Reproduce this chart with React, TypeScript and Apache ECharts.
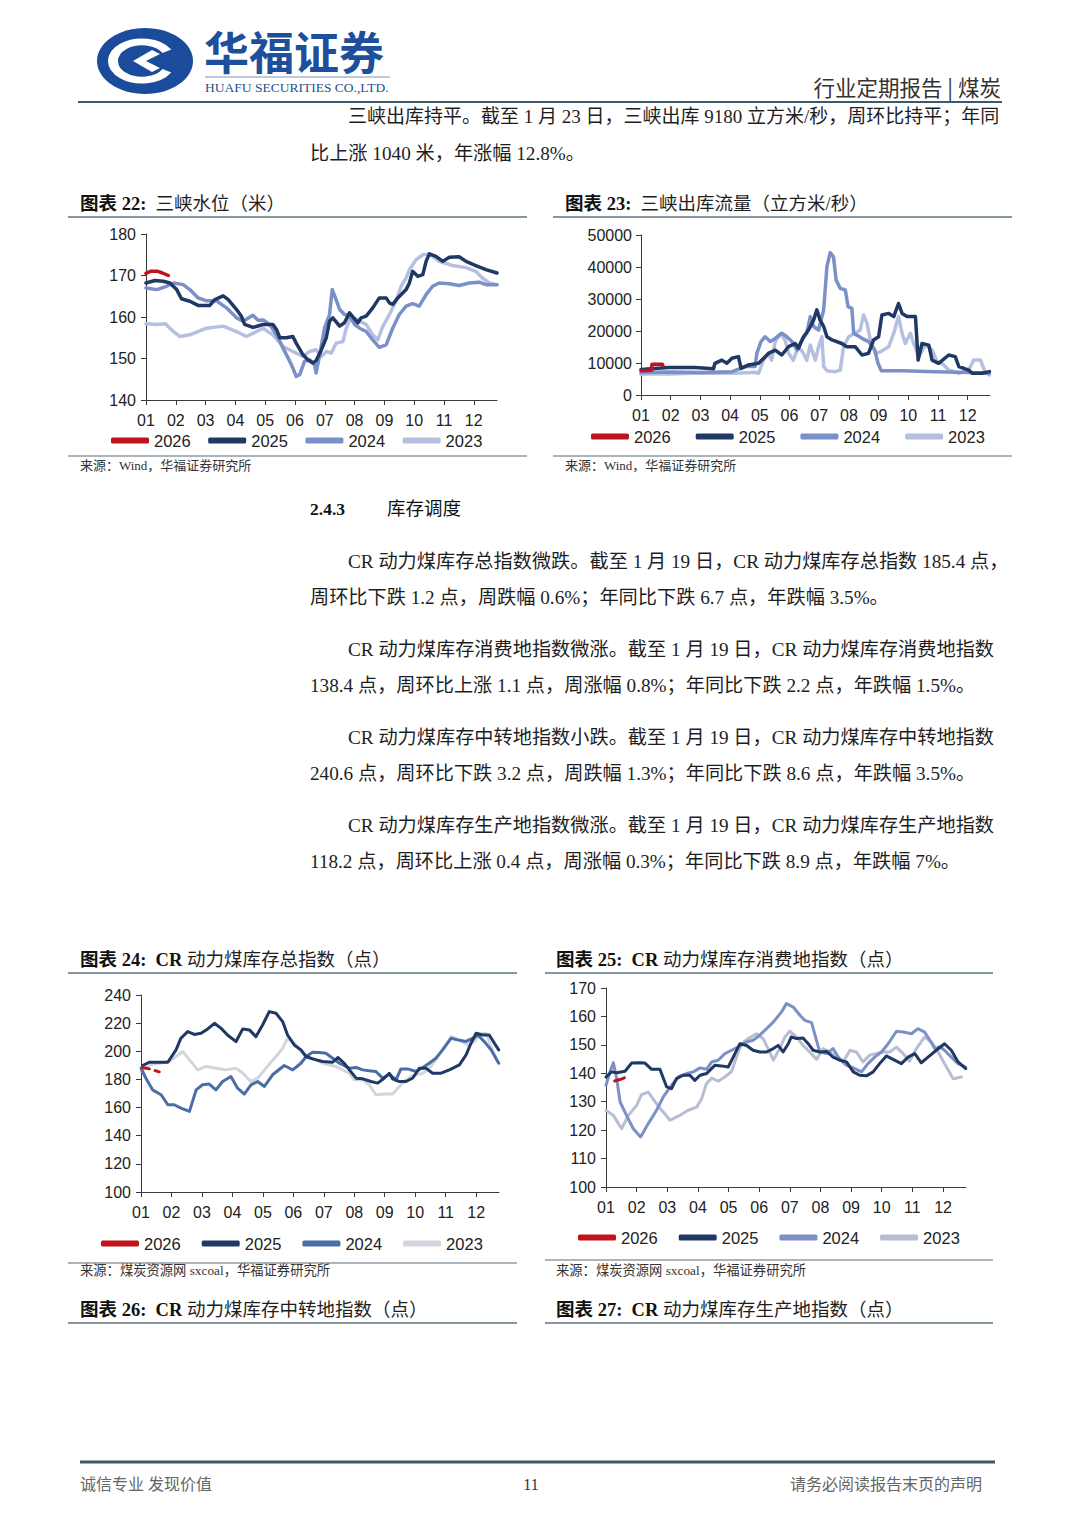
import React, { useEffect, useRef } from 'react';
import * as echarts from 'echarts';

// ---------- shared axis ticks ----------
const monthTicks = [0, 1, 2, 3, 4, 5, 6, 7, 8, 9, 10, 11];
const monthLabels = ['01', '02', '03', '04', '05', '06', '07', '08', '09', '10', '11', '12'];
const years = ['2026', '2025', '2024', '2023'];

// ---------- 图表22 三峡水位（米） [month, value] ----------
const c22_2026 = [[0, 170.5], [0.15, 171], [0.4, 171], [0.55, 170.6], [0.75, 170]];
const c22_2025 = [[0, 168.2], [0.3, 168.8], [0.58, 168.6], [0.8, 168.2], [1.03, 166.6], [1.19, 164.4], [1.47, 163.8], [1.75, 162.8], [2.14, 162.8], [2.31, 164.2], [2.59, 165.1], [2.76, 164.2], [3.04, 161.8], [3.2, 160.2], [3.31, 158.2], [3.59, 157.5], [3.93, 158.2], [4.26, 158.2], [4.38, 157], [4.49, 155], [4.71, 155], [4.93, 155.3], [5.04, 153.7], [5.27, 150.9], [5.43, 149.7], [5.6, 148.9], [5.71, 149.5], [5.88, 152], [6.05, 155], [6.16, 159], [6.27, 159.8], [6.5, 157.8], [6.66, 158.6], [6.83, 161], [7.11, 158.6], [7.22, 159.8], [7.39, 160.2], [7.61, 162.2], [7.83, 164.6], [8.06, 164.6], [8.17, 163.4], [8.28, 163], [8.45, 164.6], [8.73, 166.6], [8.84, 168.2], [8.95, 171], [9.12, 169.8], [9.29, 170.2], [9.4, 173.4], [9.51, 175.2], [9.73, 174.6], [9.96, 173.4], [10.18, 174.4], [10.51, 174.5], [10.74, 173.4], [11.07, 172.4], [11.41, 171.4], [11.78, 170.6]];
const c22_2024 = [[0, 167], [0.36, 166.6], [0.69, 167.4], [0.92, 168.2], [1.25, 167.8], [1.47, 166.6], [1.75, 164.6], [2.03, 163.9], [2.37, 163.9], [2.7, 162.2], [3.04, 159.8], [3.26, 159], [3.59, 160.4], [3.76, 159.2], [3.93, 159.3], [4.15, 158.2], [4.38, 155.7], [4.6, 152.5], [4.77, 150.1], [4.93, 147.7], [5.04, 145.7], [5.16, 146.1], [5.32, 149.3], [5.49, 149.7], [5.66, 148.5], [5.71, 146.5], [5.83, 150.9], [5.99, 157.3], [6.16, 160.6], [6.25, 166.6], [6.38, 164.2], [6.5, 161.8], [6.66, 160.6], [6.83, 160.4], [7.0, 158.2], [7.17, 157.3], [7.39, 156.5], [7.61, 154.5], [7.83, 152.7], [8.06, 153.3], [8.28, 157.3], [8.5, 160.6], [8.73, 162.6], [8.95, 163.2], [9.17, 162.6], [9.4, 165.4], [9.62, 167.4], [9.84, 168.2], [10.18, 168], [10.51, 167.6], [10.85, 168.2], [11.18, 168.4], [11.41, 167.8], [11.78, 167.8]];
const c22_2023 = [[0, 158.4], [0.36, 158.2], [0.64, 158.4], [0.92, 156.5], [1.14, 155.3], [1.47, 155.7], [2.03, 157.3], [2.59, 157.8], [3.04, 156.5], [3.37, 155.3], [3.71, 156.5], [3.93, 157.3], [4.26, 155.7], [4.6, 152.9], [4.93, 151.7], [5.27, 150.5], [5.49, 151.7], [5.71, 152.1], [5.88, 150.5], [6.05, 151.7], [6.22, 151.3], [6.38, 153.7], [6.61, 154.1], [6.72, 157.3], [6.89, 160.2], [7.17, 159], [7.39, 158.2], [7.61, 155.7], [7.78, 154.5], [7.95, 157.8], [8.17, 160.6], [8.39, 163.8], [8.56, 167.4], [8.73, 169.4], [8.84, 171.4], [9.06, 173.8], [9.29, 175], [9.51, 175.2], [9.84, 173.4], [10.29, 172.4], [10.74, 171.9], [11.07, 171], [11.29, 169.4], [11.52, 168.2], [11.78, 167.8]];

// ---------- 图表23 三峡出库流量（立方米/秒） ----------
const c23_2026 = [[0, 7600], [0.35, 7700], [0.37, 9600], [0.72, 9600], [0.74, 9180]];
const c23_2025 = [[0, 8000], [0.92, 8600], [1.82, 8600], [2.44, 8200], [2.49, 9900], [2.72, 10900], [2.89, 9900], [3.06, 11500], [3.28, 12000], [3.37, 8300], [3.62, 9400], [3.96, 9900], [4.29, 13000], [4.52, 14000], [4.74, 12500], [4.97, 15100], [5.19, 16100], [5.3, 14600], [5.47, 18200], [5.64, 20300], [5.81, 23400], [5.92, 26600], [6.03, 23400], [6.15, 21400], [6.26, 18200], [6.43, 17200], [6.76, 16100], [6.93, 15100], [7.21, 15100], [7.44, 12500], [7.66, 13000], [7.83, 17200], [8.0, 18200], [8.11, 25000], [8.34, 25500], [8.51, 24500], [8.67, 28600], [8.79, 25500], [8.96, 24500], [9.24, 24500], [9.33, 10900], [9.46, 16100], [9.69, 15600], [9.8, 10900], [10.02, 9900], [10.36, 12500], [10.58, 12000], [10.7, 8900], [11.03, 7800], [11.15, 6800], [11.48, 6800], [11.73, 7300]];
const c23_2024 = [[0, 7000], [0.92, 7200], [2.04, 7000], [3.06, 7300], [3.51, 8900], [3.84, 8900], [3.9, 13000], [4.04, 16700], [4.18, 18200], [4.35, 16700], [4.52, 17700], [4.74, 19300], [4.91, 18200], [5.08, 16700], [5.25, 14100], [5.42, 17200], [5.58, 19300], [5.7, 24500], [5.81, 21400], [5.98, 20300], [6.15, 26600], [6.26, 40100], [6.37, 44500], [6.48, 43200], [6.57, 35900], [6.71, 33300], [6.88, 32800], [6.97, 27600], [7.1, 27100], [7.16, 19300], [7.44, 17700], [7.66, 16700], [7.87, 14100], [7.98, 9900], [8.09, 7600], [8.79, 7600], [9.91, 7300], [11.03, 7000], [11.73, 6800]];
const c23_2023 = [[0, 6600], [0.92, 6600], [2.04, 6900], [3.17, 6800], [3.84, 7100], [3.96, 6800], [4.12, 10900], [4.29, 13000], [4.4, 10900], [4.52, 16700], [4.69, 19100], [4.85, 17200], [4.97, 13000], [5.13, 10900], [5.3, 15100], [5.47, 13000], [5.58, 10900], [5.7, 15600], [5.87, 10900], [5.98, 15100], [6.09, 18200], [6.15, 8900], [6.26, 7600], [6.54, 7300], [6.71, 7800], [6.82, 15100], [6.99, 18200], [7.21, 19300], [7.38, 20300], [7.49, 25000], [7.61, 22400], [7.72, 17200], [7.89, 13000], [8.06, 13500], [8.34, 15100], [8.51, 19300], [8.67, 24500], [8.79, 19300], [8.9, 16100], [9.07, 19300], [9.18, 16100], [9.35, 12000], [9.57, 15600], [9.8, 14100], [9.97, 10400], [10.13, 9900], [10.36, 7800], [10.7, 6800], [11.03, 7800], [11.2, 10900], [11.43, 10900], [11.6, 6800], [11.73, 6300]];

// ---------- 图表24 CR动力煤库存总指数（点） ----------
const c24_2026 = [[0.05, 188.5], [0.27, 187.5], [0.6, 185.4]];
const c24_2025 = [[0.05, 189.9], [0.27, 192.2], [0.6, 192.2], [0.88, 192.2], [1.15, 201], [1.31, 209.3], [1.53, 214], [1.75, 212], [1.97, 212.8], [2.19, 215.9], [2.41, 219.9], [2.63, 216.3], [2.84, 211.6], [3.12, 206.9], [3.34, 215.9], [3.56, 215.2], [3.77, 210.4], [3.99, 218.7], [4.21, 228.2], [4.43, 227], [4.65, 221.1], [4.81, 211.6], [5.03, 204.5], [5.25, 201], [5.42, 196.3], [5.63, 194.6], [5.96, 192.7], [6.29, 192.2], [6.46, 195.6], [6.67, 191.5], [6.84, 186.8], [7.06, 180.9], [7.28, 180.4], [7.55, 178.5], [7.77, 177.4], [7.99, 181], [8.15, 184.4], [8.26, 180.4], [8.48, 178.5], [8.7, 178.5], [8.92, 181], [9.14, 188], [9.35, 188], [9.57, 184.4], [9.85, 184.4], [10.12, 186.8], [10.45, 190.4], [10.67, 197.4], [10.83, 205.7], [11.0, 212.8], [11.21, 211.6], [11.43, 211.6], [11.6, 205.7], [11.74, 201]];
const c24_2024 = [[0, 188], [0.16, 180.9], [0.38, 172.6], [0.66, 169.1], [0.88, 162], [1.09, 162], [1.31, 159.6], [1.59, 157.3], [1.81, 172.6], [2.02, 176.2], [2.24, 176.7], [2.46, 172.6], [2.68, 178.5], [2.95, 182.1], [3.17, 173.8], [3.39, 169.6], [3.61, 176.2], [3.83, 178.5], [4.05, 175], [4.32, 183.3], [4.7, 189.9], [4.98, 186.8], [5.25, 191.5], [5.42, 196.3], [5.63, 199.3], [5.85, 199.1], [6.07, 198.6], [6.29, 195.1], [6.51, 191.5], [6.84, 188], [7.06, 188.5], [7.28, 186.8], [7.49, 186.1], [7.71, 185.6], [7.93, 180.9], [8.15, 183.7], [8.37, 179.7], [8.53, 187.5], [8.75, 187.5], [9.03, 185.6], [9.25, 188.5], [9.46, 191.5], [9.68, 195.1], [9.9, 201], [10.18, 209.3], [10.39, 208.1], [10.67, 207], [10.89, 209.3], [11.05, 211.6], [11.27, 206.9], [11.49, 201], [11.74, 191.5]];
const c24_2023 = [[0, 185.6], [0.27, 190.4], [0.6, 191.5], [0.93, 192.7], [1.37, 199.8], [1.59, 193.9], [1.86, 186.8], [2.13, 189.2], [2.46, 188], [2.79, 186.8], [3.12, 188], [3.34, 184.4], [3.61, 178.5], [3.83, 180.9], [4.1, 188], [4.38, 195.1], [4.65, 202.2], [4.81, 209.3], [5.03, 205.7], [5.25, 199.8], [5.42, 195.6], [5.63, 195.1], [5.96, 191.5], [6.4, 189.2], [6.84, 184.4], [7.0, 179.7], [7.28, 179.7], [7.49, 176.2], [7.71, 169.1], [8.04, 169.6], [8.26, 169.6], [8.48, 175], [8.7, 179.7], [8.92, 182.7], [9.25, 184.4], [9.46, 188], [9.68, 193.9], [9.96, 203.4], [10.18, 210.4], [10.45, 208.1], [10.72, 204.5], [10.94, 206.9], [11.1, 212.1], [11.32, 212.8], [11.49, 203.4], [11.71, 192.7]];

// ---------- 图表25 CR动力煤库存消费地指数（点） ----------
const c25_2026 = [[0.28, 137.3], [0.45, 137.8], [0.6, 138.4]];
const c25_2025 = [[0, 138.7], [0.18, 140.5], [0.35, 140.2], [0.62, 140.7], [0.84, 143.6], [1.05, 143.7], [1.27, 143.6], [1.49, 141.4], [1.76, 141.4], [1.98, 135.2], [2.14, 134.6], [2.3, 138.1], [2.52, 139.3], [2.74, 139.3], [2.9, 137.5], [3.07, 139.3], [3.28, 139.9], [3.55, 142.8], [3.77, 142.6], [3.99, 142.2], [4.21, 146.9], [4.37, 150.4], [4.59, 149.8], [4.8, 148.1], [5.02, 147.5], [5.24, 147.5], [5.46, 148.7], [5.62, 149.8], [5.78, 147.5], [5.95, 150.4], [6.05, 152.8], [6.22, 152.2], [6.43, 152.4], [6.6, 150.4], [6.76, 148.1], [6.98, 147.5], [7.2, 147.7], [7.41, 145.7], [7.63, 144.6], [7.85, 144], [8.07, 140.5], [8.28, 139.3], [8.5, 139.1], [8.72, 140.5], [8.93, 143.4], [9.15, 146.1], [9.37, 144.9], [9.64, 143.4], [9.86, 145.7], [10.08, 146.9], [10.29, 143.7], [10.51, 145.7], [10.78, 148.1], [11.05, 150.4], [11.27, 148.1], [11.49, 144], [11.74, 141.6]];
const c25_2024 = [[0, 135.8], [0.13, 140.5], [0.24, 143.7], [0.35, 138.1], [0.46, 129.9], [0.67, 125.2], [0.89, 120.5], [1.13, 117.6], [1.38, 122.3], [1.65, 127], [1.87, 131.7], [2.14, 135.8], [2.36, 138.7], [2.63, 139.9], [2.85, 140.5], [3.07, 141.9], [3.28, 141.4], [3.45, 144], [3.66, 144.6], [3.88, 146.9], [4.1, 148.1], [4.32, 149.3], [4.59, 151], [4.8, 151.6], [5.02, 153.4], [5.24, 155.7], [5.46, 158], [5.73, 161.6], [5.89, 164.5], [6.11, 163.3], [6.33, 160.4], [6.49, 158.6], [6.71, 157.8], [6.87, 151.6], [6.98, 147.5], [7.2, 146.9], [7.41, 148.7], [7.58, 145.7], [7.85, 142.8], [8.07, 141.9], [8.34, 140.5], [8.55, 143.4], [8.77, 145.7], [8.99, 147.5], [9.21, 150.4], [9.48, 154.8], [9.7, 154.5], [9.97, 153.9], [10.18, 155.7], [10.4, 154.5], [10.57, 151.6], [10.73, 148.7], [10.89, 149.3], [11.05, 148.1], [11.27, 145.7], [11.49, 143.4], [11.74, 142.2]];
const c25_2023 = [[0, 127], [0.24, 125.2], [0.51, 120.5], [0.73, 125.2], [1.0, 128.7], [1.16, 132.5], [1.38, 133.4], [1.6, 130], [1.82, 127], [2.09, 123.5], [2.41, 125.2], [2.68, 127], [2.96, 128.1], [3.12, 131], [3.28, 136.4], [3.45, 138.3], [3.66, 137.2], [3.88, 138.7], [4.1, 140.7], [4.26, 145.7], [4.42, 150.4], [4.64, 152.2], [4.91, 153.9], [5.13, 152.2], [5.29, 148.7], [5.46, 144.6], [5.67, 148.7], [5.84, 152.8], [6.0, 154.8], [6.22, 152.8], [6.43, 149.8], [6.65, 147.5], [6.87, 144.9], [7.09, 148.7], [7.3, 147.5], [7.52, 145.7], [7.74, 144], [7.96, 148.1], [8.17, 147.5], [8.39, 144], [8.61, 146.4], [8.83, 147], [9.04, 147.5], [9.26, 147.5], [9.48, 149.2], [9.7, 146.9], [9.91, 144.2], [10.13, 148.7], [10.4, 152.8], [10.62, 151], [10.84, 147.5], [11.05, 143.4], [11.33, 138.1], [11.6, 138.7]];

// ---------- page texts ----------
const headerLines = ['三峡出库持平。截至 1 月 23 日，三峡出库 9180 立方米/秒，周环比持平；年同', '比上涨 1040 米，年涨幅 12.8%。'];
const paraLines = [
  ['CR 动力煤库存总指数微跌。截至 1 月 19 日，CR 动力煤库存总指数 185.4 点，', '周环比下跌 1.2 点，周跌幅 0.6%；年同比下跌 6.7 点，年跌幅 3.5%。'],
  ['CR 动力煤库存消费地指数微涨。截至 1 月 19 日，CR 动力煤库存消费地指数', '138.4 点，周环比上涨 1.1 点，周涨幅 0.8%；年同比下跌 2.2 点，年跌幅 1.5%。'],
  ['CR 动力煤库存中转地指数小跌。截至 1 月 19 日，CR 动力煤库存中转地指数', '240.6 点，周环比下跌 3.2 点，周跌幅 1.3%；年同比下跌 8.6 点，年跌幅 3.5%。'],
  ['CR 动力煤库存生产地指数微涨。截至 1 月 19 日，CR 动力煤库存生产地指数', '118.2 点，周环比上涨 0.4 点，周涨幅 0.3%；年同比下跌 8.9 点，年跌幅 7%。'],
];

const SANS = "'Liberation Sans', Arial, Helvetica, sans-serif";
const BODY = "'Liberation Serif', 'Noto Sans CJK SC', serif";
const CJK = "'Noto Sans CJK SC', sans-serif";
const RED = '#c0141c';
const NAVY = '#1f3864';
const BODY_SIZE = 19.2;

function txt(x: number, y: number, text: string, o: any = {}) {
  return {
    type: 'text', x, y, silent: true,
    style: {
      text, fontSize: o.size || BODY_SIZE, fontFamily: o.family || BODY, fontWeight: o.weight || 'normal',
      fill: o.color || '#1e1e1e', align: o.align || 'left', verticalAlign: 'middle',
      textAlign: o.align || 'left', textVerticalAlign: 'middle', rich: o.rich, lineHeight: o.lh,
    },
  };
}
function hline(x1: number, x2: number, y: number, color: string, w: number) {
  return { type: 'line', silent: true, shape: { x1, y1: y, x2, y2: y }, style: { stroke: color, lineWidth: w } };
}
function title(x: number, y: number, num: string, rest: string, boldCR: boolean, size: number) {
  const text = boldCR ? `{b|图表 ${num}:}  {c|CR} ${rest}` : `{b|图表 ${num}:}  ${rest}`;
  return txt(x, y, text, {
    size, family: BODY,
    rich: {
      b: { fontSize: size, fontWeight: 'bold', fontFamily: BODY, fill: '#111' },
      c: { fontSize: size, fontWeight: 'bold', fontFamily: "'Liberation Serif', serif", fill: '#111' },
    },
  });
}

const grids = [
  { left: 146, top: 234, width: 351, height: 166 },
  { left: 641, top: 235, width: 349, height: 160 },
  { left: 141, top: 995, width: 358, height: 197 },
  { left: 606, top: 988, width: 360, height: 199 },
];
const xMax = [11.78, 11.75, 11.75, 11.75];
const yCfg = [
  { min: 140, max: 180, interval: 10, margin: 10 },
  { min: 0, max: 50000, interval: 10000, margin: 9 },
  { min: 100, max: 240, interval: 20, margin: 10 },
  { min: 100, max: 170, interval: 10, margin: 10 },
];
const legendPos = [
  { left: 111, top: 432, gap: 17.5 },
  { left: 591, top: 428, gap: 25 },
  { left: 101, top: 1235, gap: 21 },
  { left: 578, top: 1229, gap: 21 },
];
const chartColors = [
  [RED, NAVY, '#7b8fc8', '#b5c0e0'],
  [RED, NAVY, '#7b8fc8', '#b5c0e0'],
  [RED, NAVY, '#4a6da6', '#d3d5dc'],
  [RED, NAVY, '#7d90c6', '#b8bdd3'],
];
const chartData = [
  [c22_2026, c22_2025, c22_2024, c22_2023],
  [c23_2026, c23_2025, c23_2024, c23_2023],
  [c24_2026, c24_2025, c24_2024, c24_2023],
  [c25_2026, c25_2025, c25_2024, c25_2023],
];
const lineWidths = [3.5, 3.5, 3, 3];

function buildOption() {
  const axisColor = '#3a3a3a';
  const xAxis = grids.map((_, i) => ({
    type: 'value', gridIndex: i, min: 0, max: xMax[i], interval: 1,
    axisLine: { show: true, lineStyle: { color: axisColor, width: 1 } },
    axisTick: { show: true, length: 5, customValues: monthTicks, lineStyle: { color: axisColor } },
    axisLabel: {
      customValues: monthTicks, margin: 12, fontSize: 16, color: '#222', fontFamily: SANS,
      formatter: (v: number) => monthLabels[Math.round(v)] || '',
    },
    splitLine: { show: false },
  }));
  const yAxis = grids.map((_, i) => ({
    type: 'value', gridIndex: i, min: yCfg[i].min, max: yCfg[i].max, interval: yCfg[i].interval,
    axisLine: { show: true, lineStyle: { color: axisColor, width: 1 } },
    axisTick: { show: true, length: 5, lineStyle: { color: axisColor } },
    axisLabel: { margin: yCfg[i].margin, fontSize: 16, color: '#222', fontFamily: SANS, formatter: (v: number) => String(v) },
    splitLine: { show: false },
  }));
  const series: any[] = [];
  grids.forEach((_, gi) => {
    for (let k = 3; k >= 0; k--) {
      const dashed = gi === 2 && k === 0;
      series.push({
        type: 'line', name: years[k], xAxisIndex: gi, yAxisIndex: gi, data: chartData[gi][k],
        showSymbol: false, symbol: 'none', animation: false, clip: true,
        lineStyle: { color: chartColors[gi][k], width: lineWidths[gi], type: dashed ? [7, 6] : 'solid', cap: 'round', join: 'round' },
        itemStyle: { color: chartColors[gi][k] },
        z: 2 + (3 - k),
      });
    }
  });
  const legend = legendPos.map((p, gi) => ({
    left: p.left, top: p.top, itemWidth: 38, itemHeight: 6, itemGap: p.gap, icon: 'roundRect',
    orient: 'horizontal', selectedMode: false, padding: 0,
    textStyle: { fontSize: 16.5, color: '#222', fontFamily: SANS },
    data: years.map((y, k) => ({ name: y, itemStyle: { color: chartColors[gi][k] } })),
  }));

  const elements: any[] = [];
  // logo
  elements.push({ type: 'ellipse', silent: true, shape: { cx: 145, cy: 61, rx: 48, ry: 33 }, style: { fill: '#1b4b9b' } });
  elements.push({
    type: 'group', x: 142, y: 61, scaleY: 0.66, silent: true,
    children: [
      { type: 'arc', shape: { cx: 0, cy: 0, r: 29, startAngle: Math.PI * 0.17, endAngle: Math.PI * 1.83, clockwise: true }, style: { stroke: '#fff', lineWidth: 10, fill: null } },
    ],
  });
  elements.push({ type: 'polygon', silent: true, shape: { points: [[152, 50], [133, 61], [152, 72], [160, 68], [146, 61], [160, 54]] }, style: { fill: '#fff' } });
  elements.push(txt(204, 50, '华福证券', { size: 45, weight: 'bold', family: CJK, color: '#1d4f9c', lh: 46 }));
  elements.push(hline(205, 390, 77, '#7f94b8', 1));
  elements.push(txt(205, 87, 'HUAFU SECURITIES CO.,LTD.', { size: 13.5, family: "'Liberation Serif', serif", color: '#2a4f8f', lh: 14 }));
  elements.push(txt(1001, 86, '行业定期报告 | 煤炭', { size: 21.5, family: CJK, color: '#333', align: 'right' }));
  elements.push(hline(78, 1002, 102, '#3d5a6b', 2));
  // header paragraph
  elements.push(txt(348, 116, headerLines[0], { size: 19 }));
  elements.push(txt(310, 153, headerLines[1]));
  // chart titles
  elements.push(title(80, 204, '22', '三峡水位（米）', false, 18.5));
  elements.push(hline(68, 527, 217, '#5f7482', 1.5));
  elements.push(title(565, 204, '23', '三峡出库流量（立方米/秒）', false, 18.5));
  elements.push(hline(553, 1012, 217, '#5f7482', 1.5));
  // sources
  elements.push(hline(68, 527, 456, '#8c9ba6', 1.5));
  elements.push(txt(80, 465, '来源：Wind，华福证券研究所', { size: 13, color: '#333' }));
  elements.push(hline(553, 1012, 456, '#8c9ba6', 1.5));
  elements.push(txt(565, 465, '来源：Wind，华福证券研究所', { size: 13, color: '#333' }));
  // section heading
  elements.push(txt(310, 509, '2.4.3', { size: 17.5, weight: 'bold', family: "'Liberation Serif', serif", color: '#111' }));
  elements.push(txt(387, 509, '库存调度', { size: 18.5, color: '#111' }));
  const paraY = [561, 649, 737, 825];
  paraLines.forEach((ls, i) => {
    elements.push(txt(348, paraY[i], ls[0]));
    elements.push(txt(310, paraY[i] + 36, ls[1]));
  });
  // charts 24 / 25 titles
  elements.push(title(80, 960, '24', '动力煤库存总指数（点）', true, 18.5));
  elements.push(hline(68, 517, 973, '#5f7482', 1.5));
  elements.push(title(556, 960, '25', '动力煤库存消费地指数（点）', true, 18.5));
  elements.push(hline(545, 993, 973, '#5f7482', 1.5));
  elements.push(hline(68, 517, 1263, '#8c9ba6', 1.5));
  elements.push(txt(80, 1270, '来源：煤炭资源网 sxcoal，华福证券研究所', { size: 13.3, color: '#333' }));
  elements.push(hline(545, 993, 1260, '#8c9ba6', 1.5));
  elements.push(txt(556, 1270, '来源：煤炭资源网 sxcoal，华福证券研究所', { size: 13.3, color: '#333' }));
  // charts 26 / 27 titles
  elements.push(title(80, 1310, '26', '动力煤库存中转地指数（点）', true, 18.5));
  elements.push(hline(68, 517, 1323, '#5f7482', 1.5));
  elements.push(title(556, 1310, '27', '动力煤库存生产地指数（点）', true, 18.5));
  elements.push(hline(545, 993, 1323, '#5f7482', 1.5));
  // footer
  elements.push(hline(80, 995, 1462, '#3d5a6b', 3));
  elements.push(txt(80, 1484, '诚信专业 发现价值', { size: 16, color: '#666' }));
  elements.push(txt(531, 1484, '11', { size: 16, color: '#333', align: 'center', family: "'Liberation Serif', serif" }));
  elements.push(txt(982, 1484, '请务必阅读报告末页的声明', { size: 16, color: '#666', align: 'right' }));

  return {
    animation: false,
    backgroundColor: '#ffffff',
    grid: grids.map((g) => ({ ...g, containLabel: false, outerBoundsMode: 'none' })),
    xAxis, yAxis, series, legend,
    graphic: { elements },
  };
}

export default function App() {
  const ref = useRef<HTMLDivElement>(null);
  useEffect(() => {
    document.body.style.margin = '0';
    const chart = echarts.init(ref.current as HTMLDivElement, null, { renderer: 'svg', width: 1080, height: 1527 });
    chart.setOption(buildOption() as any);
    return () => chart.dispose();
  }, []);
  return <div ref={ref} style={{ width: 1080, height: 1527, background: '#fff' }} />;
}
